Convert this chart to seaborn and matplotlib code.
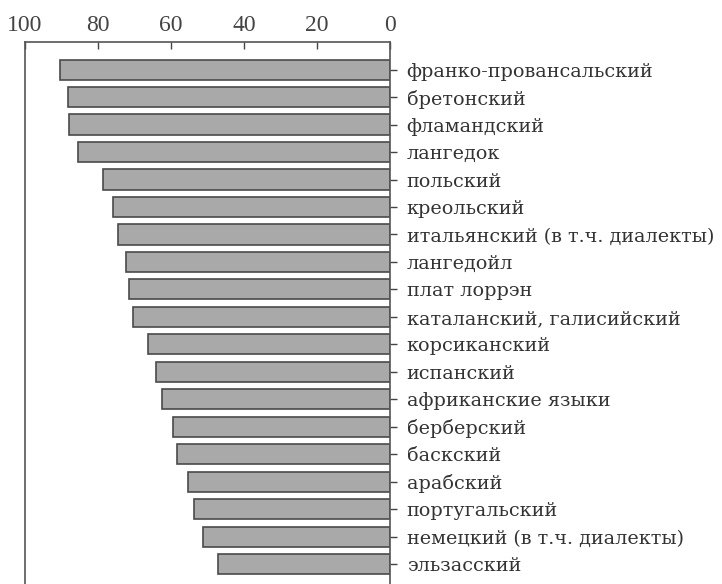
import matplotlib
matplotlib.use("Agg")
import matplotlib.pyplot as plt
import seaborn as sb
import pandas as pd

languages = [
    "франко-провансальский", "бретонский", "фламандский", "лангедок",
    "польский", "креольский", "итальянский (в т.ч. диалекты)", "лангедойл",
    "плат лоррэн", "каталанский, галисийский", "корсиканский", "испанский",
    "африканские языки", "берберский", "баскский", "арабский",
    "португальский", "немецкий (в т.ч. диалекты)", "эльзасский",
]
values = [90.4, 88.3, 88.0, 85.6, 78.5, 76.0, 74.5, 72.3, 71.4, 70.4,
          66.2, 64.0, 62.5, 59.4, 58.4, 55.2, 53.6, 51.1, 47.2]
xticks = [100, 80, 60, 40, 20, 0]

df = pd.DataFrame({"lang": languages, "pct": values})

sb.set_style("white")
plt.rcParams["font.family"] = ["Liberation Serif", "DejaVu Serif"]

fig = plt.figure(figsize=(7.22, 5.84), dpi=100)
ax = fig.add_axes([0.0346, -0.037, 0.5055, 0.965])

sb.barplot(data=df, x="pct", y="lang", orient="h", color="#a9a9a9",
           saturation=1, edgecolor="#4a4a4a", linewidth=1.2, width=0.73, ax=ax)

ax.set_xlim(100, 0)
ax.set_ylim(19.5, -1)
ax.set_xlabel("")
ax.set_ylabel("")

ax.xaxis.tick_top()
ax.set_xticks(xticks)
ax.set_xticklabels([str(t) for t in xticks])
ax.tick_params(axis="x", direction="in", length=5, width=1, color="#444",
               labelsize=17, labelcolor="#444", pad=4, top=True, bottom=False)

ax.yaxis.tick_right()
ax.tick_params(axis="y", direction="out", length=5, width=1, color="#444",
               labelsize=13.8, labelcolor="#333", pad=7, right=True, left=False)
for lbl in ax.get_yticklabels():
    lbl.set_family(["DejaVu Serif"])

for s in ax.spines.values():
    s.set_color("#555")
    s.set_linewidth(1.2)

fig.savefig("out.png", dpi=100)
